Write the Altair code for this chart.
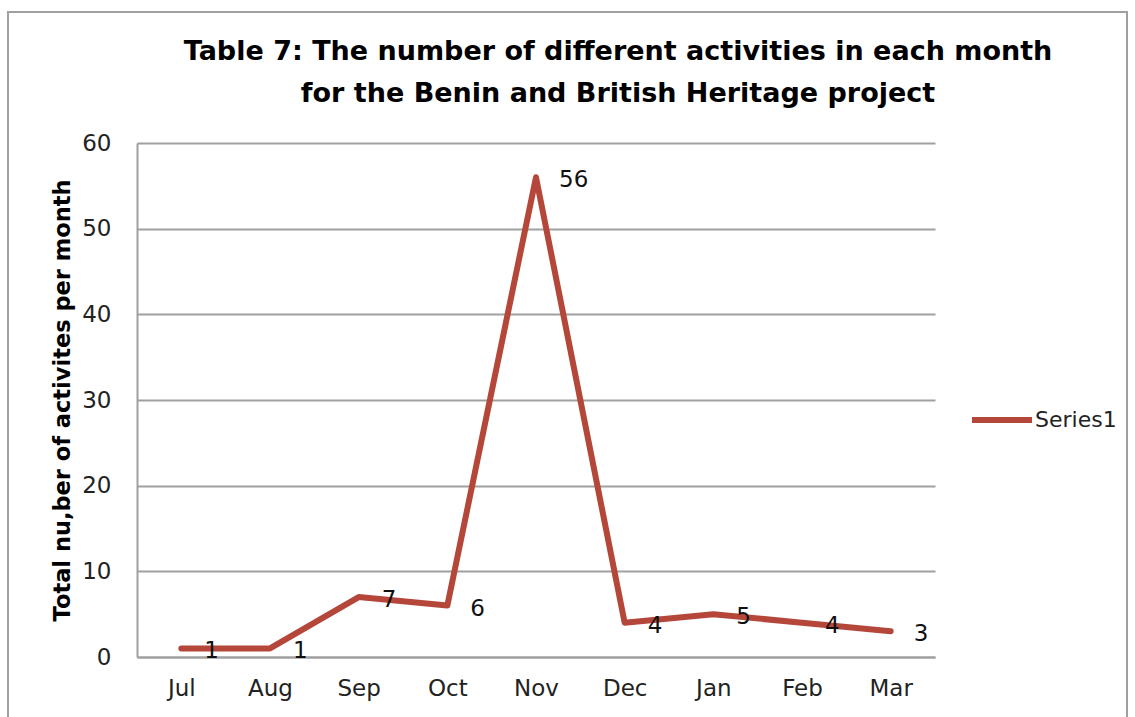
import altair as alt
import pandas as pd

months = ["Jul", "Aug", "Sep", "Oct", "Nov", "Dec", "Jan", "Feb", "Mar"]
values = [1, 1, 7, 6, 56, 4, 5, 4, 3]
series = ["Series1"] * len(months)
title_lines = ["Table 7: The number of different activities in each month",
               "for the Benin and British Heritage project"]

df = pd.DataFrame({"month": months, "value": values, "series": series})
one = pd.DataFrame({"k": [0]})

FONT = "DejaVu Sans"
LINE_COLOR = "#B4473A"
GRID = "#A0A0A0"
L, T = 137, 143

x = alt.X("month:N", sort=months, scale=alt.Scale(paddingInner=0, paddingOuter=0.5),
          axis=alt.Axis(title=None, labelAngle=0, labelFont=FONT, labelFontSize=23,
                        labelColor="#222222", labelPadding=20, ticks=False,
                        domainColor=GRID, domainWidth=2, grid=False))
y = alt.Y("value:Q", scale=alt.Scale(domain=[0, 60], nice=False),
          axis=alt.Axis(values=[0, 10, 20, 30, 40, 50, 60], title="Total nu,ber of activites per month",
                        labelFont=FONT, labelFontSize=23, labelColor="#222222", labelPadding=26,
                        ticks=False, domainColor=GRID, domainWidth=2,
                        gridColor=GRID, gridWidth=2,
                        titleFont=FONT, titleFontSize=22.5, titleFontWeight="bold", titleColor="#000000",
                        titleAngle=-90, titleX=-75, titleY=257, titleAlign="center", titleBaseline="middle"))

frame = alt.Chart(one).mark_rect(fill=None, stroke="#A0A0A0", strokeWidth=2).encode(
    x=alt.value(8 - L), x2=alt.value(1127 - L), y=alt.value(12 - T), y2=alt.value(717 - T + 20)
)

title1 = alt.Chart(one).mark_text(text=title_lines[0], font=FONT, fontSize=27, fontWeight="bold",
                                  color="#000000", align="center", baseline="middle").encode(
    x=alt.value(618 - L), y=alt.value(52 - T))
title2 = alt.Chart(one).mark_text(text=title_lines[1], font=FONT, fontSize=27, fontWeight="bold",
                                  color="#000000", align="center", baseline="middle").encode(
    x=alt.value(618 - L), y=alt.value(94 - T))

line = alt.Chart(df).mark_line(strokeWidth=6, strokeCap="round", strokeJoin="round").encode(
    x=x, y=y,
    color=alt.Color("series:N", scale=alt.Scale(domain=["Series1"], range=[LINE_COLOR]),
                    legend=alt.Legend(title=None, orient="none", legendX=832, legendY=244,
                                      symbolType="stroke", symbolSize=3600, symbolStrokeWidth=6,
                                      labelFont=FONT, labelFontSize=22, labelColor="#222222",
                                      labelOffset=0, symbolOffset=0))
)

labels = alt.Chart(df).mark_text(dx=23, dy=3, font=FONT, fontSize=23, color="#111111", align="left",
                                 baseline="middle").encode(
    x=alt.X("month:N", sort=months), y="value:Q", text="value:Q"
)

chart = alt.layer(frame, title1, title2, line, labels).properties(
    width=798, height=514,
    autosize=alt.AutoSizeParams(type="none"),
    padding={"left": L, "top": T, "right": 200, "bottom": 60},
).configure(background="white").configure_view(strokeWidth=0)

chart.save("out.html", embed_options={"renderer": "svg", "actions": False})
